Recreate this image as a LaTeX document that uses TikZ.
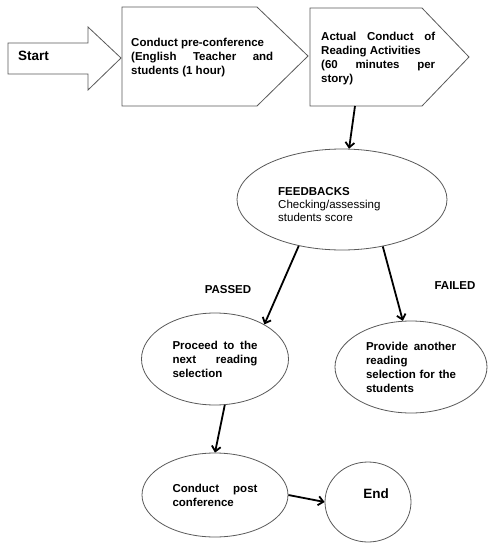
\documentclass[tikz,border=0pt]{standalone}
\usepackage{fontspec}
\setmainfont{Liberation Sans}
\usetikzlibrary{arrows.meta,shapes.geometric}
\tikzset{
  shp/.style={draw=black!65, line width=0.8pt},
  bubble/.style={shp, ellipse, inner sep=0pt},
  txt/.style={font=\bfseries\fontsize{11.5}{14}\selectfont, inner sep=0pt, align=justify},
  flow/.style={line width=1.8pt, -{Straight Barb[length=5pt,width=9pt]}}
}
\begin{document}
\begin{tikzpicture}[x=1pt,y=-1pt]
  \useasboundingbox (0,0) rectangle (488,544);
  % top row: block arrow and the two arrow boxes
  \draw[shp] (8,43) -- (88,43) -- (88,27) -- (121,58) -- (88,90) -- (88,74) -- (8,74) -- cycle;
  \draw[shp] (122,7) -- (257,7) -- (308,56) -- (257,106) -- (122,106) -- cycle;
  \draw[shp] (310,8) -- (422,8) -- (469,57) -- (422,106) -- (310,106) -- cycle;
  \coordinate (actbot) at (355,106);
  \node[txt, font=\bfseries\fontsize{13.5}{16}\selectfont, anchor=west] (start) at (18,56) {Start};
  \node[txt, anchor=north west, text width=142pt] (pre) at (131,38)
    {Conduct pre-conference\newline (English Teacher and\linebreak students (1 hour)};
  \node[txt, anchor=north west, text width=114pt] (act) at (321,31.5)
    {Actual Conduct of\linebreak Reading Activities\newline (60 minutes per\linebreak story)};
  % feedback
  \node[bubble, minimum width=210pt, minimum height=101pt] (fb) at (342,199.5) {};
  \node[txt, font=\fontsize{11.5}{13}\selectfont, anchor=north west, align=left] (fbtxt) at (278,187)
    {\textbf{FEEDBACKS}\\ Checking/assessing\\ students score};
  \node[txt] (passed) at (228,290) {PASSED};
  \node[txt] (failed) at (455,286) {FAILED};
  % results
  \node[bubble, txt, text width=85pt, minimum width=147pt, minimum height=92pt] (pass) at (215,359)
    {Proceed to the\linebreak next reading\linebreak selection};
  \node[bubble, txt, text width=90pt, minimum width=152pt, minimum height=92pt] (fail) at (411,367)
    {Provide another\linebreak reading\newline selection for the\linebreak students};
  \node[bubble, txt, text width=85pt, minimum width=146pt, minimum height=84pt] (post) at (215,495)
    {Conduct post\linebreak conference};
  \node[bubble, minimum width=86pt, minimum height=80pt,
    label={[txt, font=\bfseries\fontsize{13.5}{16}\selectfont, xshift=8pt, yshift=8pt]center:End}] (end) at (368,502) {};
  % connectors
  \draw[flow] (actbot) -- (fb);
  \draw[flow] (fb.227) -- (pass.35);
  \draw[flow] (fb.311) -- (fail.100);
  \draw[flow] (pass.282) -- (post.north);
  \draw[flow] (post.east) -- (end.west);
\end{tikzpicture}
\end{document}
